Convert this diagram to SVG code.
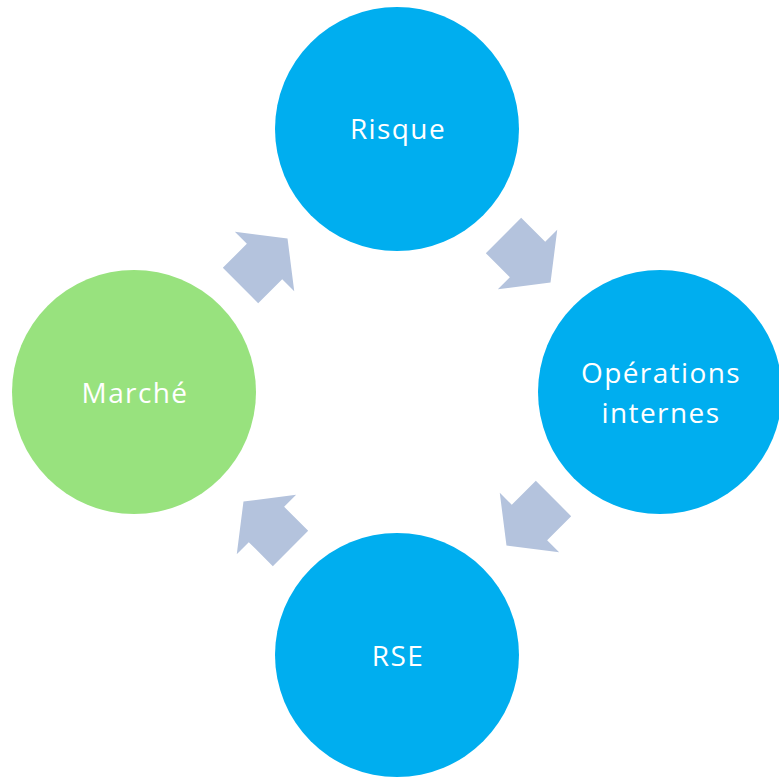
<svg xmlns="http://www.w3.org/2000/svg" xmlns:xlink="http://www.w3.org/1999/xlink" width="779" height="781" viewBox="0 0 779 781">
  <style>
    .blue { fill: #00AEEF; }
    .green { fill: #98E27E; }
    .lbl { fill: #FFFFFF; font-family: "Open Sans", "Noto Sans", sans-serif; font-size: 28px; letter-spacing: 1.4px; text-anchor: middle; }
    .arr { fill: #B4C3DD; }
  </style>
  <defs>
    <polygon id="arrow" class="arr" points="0,-25 34,-25 34,-42 66.5,0 34,42 34,25 0,25" transform="translate(240.5,285.5) rotate(-45)"/>
  </defs>
  <rect width="779" height="781" fill="#FFFFFF"/>
  <g id="connectors">
    <use xlink:href="#arrow" href="#arrow"/>
    <use xlink:href="#arrow" href="#arrow" transform="rotate(90 397 392)"/>
    <use xlink:href="#arrow" href="#arrow" transform="rotate(180 397 392)"/>
    <use xlink:href="#arrow" href="#arrow" transform="rotate(270 397 392)"/>
  </g>
  <g id="risque">
    <circle class="blue" cx="397" cy="129" r="122"/>
    <text class="lbl" x="398" y="139">Risque</text>
  </g>
  <g id="operations">
    <circle class="blue" cx="660" cy="392" r="122"/>
    <text class="lbl" x="661" y="383">Opérations</text>
    <text class="lbl" x="661" y="423">internes</text>
  </g>
  <g id="rse">
    <circle class="blue" cx="397" cy="655" r="122"/>
    <text class="lbl" x="398" y="666">RSE</text>
  </g>
  <g id="marche">
    <circle class="green" cx="134" cy="392" r="122"/>
    <text class="lbl" x="135" y="403">Marché</text>
  </g>
</svg>
